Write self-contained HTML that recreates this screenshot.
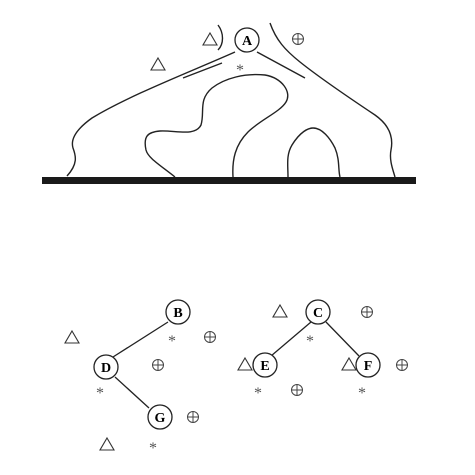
<!DOCTYPE html>
<html><head><meta charset="utf-8"><style>
html,body{margin:0;padding:0;background:#fff;}
svg{display:block;}
text{font-family:"Liberation Serif",serif;}
</style></head><body>
<svg width="475" height="475" viewBox="0 0 475 475">
<g fill="none" stroke="#222" stroke-width="1.4">
<path d="M67,176 C78,164 76,156 73,148 C70,138 78,128 92,118 C130,95 190,72 235,52"/>
<path d="M183,78 L222,63"/>
<path d="M218,25 C224,33 224,44 218,50"/>
<path d="M257,52 L305,78"/>
<path d="M270,23 C276,40 285,50 300,62 C320,78 345,95 375,115 C392,127 393,140 391,150 C389,160 393,170 395,177"/>
<path d="M175,177 C160,165 148,158 146,150 C143,136 148,132 160,131 C175,130 195,137 201,125 C205,112 198,100 212,88 C225,78 245,73 265,75 C282,78 292,92 286,102 C280,112 260,120 248,132 C235,145 232,160 233,177"/>
<path d="M288,177 C288,165 286,155 292,145 C300,132 308,128 313,128 C322,128 330,138 335,148 C340,160 338,170 340,177"/>
</g>
<rect x="42" y="177" width="374" height="7" fill="#1a1a1a"/>
<g fill="none" stroke="#222" stroke-width="1.3">
<line x1="168" y1="322" x2="113" y2="357"/>
<line x1="115" y1="377" x2="149" y2="408"/>
<line x1="311" y1="322" x2="271" y2="356"/>
<line x1="326" y1="322" x2="359" y2="356"/>
</g>
<g>
<g><circle cx="247" cy="40" r="12" fill="#fff" stroke="#222" stroke-width="1.3"/><text x="247" y="45" font-size="14" font-weight="bold" text-anchor="middle">A</text></g>
<g><circle cx="178" cy="312" r="12" fill="#fff" stroke="#222" stroke-width="1.3"/><text x="178" y="317" font-size="14" font-weight="bold" text-anchor="middle">B</text></g>
<g><circle cx="318" cy="312" r="12" fill="#fff" stroke="#222" stroke-width="1.3"/><text x="318" y="317" font-size="14" font-weight="bold" text-anchor="middle">C</text></g>
<g><circle cx="106" cy="367" r="12" fill="#fff" stroke="#222" stroke-width="1.3"/><text x="106" y="372" font-size="14" font-weight="bold" text-anchor="middle">D</text></g>
<g><circle cx="265" cy="365" r="12" fill="#fff" stroke="#222" stroke-width="1.3"/><text x="265" y="370" font-size="14" font-weight="bold" text-anchor="middle">E</text></g>
<g><circle cx="368" cy="365" r="12" fill="#fff" stroke="#222" stroke-width="1.3"/><text x="368" y="370" font-size="14" font-weight="bold" text-anchor="middle">F</text></g>
<g><circle cx="160" cy="417" r="12" fill="#fff" stroke="#222" stroke-width="1.3"/><text x="160" y="422" font-size="14" font-weight="bold" text-anchor="middle">G</text></g>
</g>
<g fill="none" stroke="#333" stroke-width="1.1">
<path d="M210,33 L217,45 L203,45 Z"/>
<path d="M158,58 L165,70 L151,70 Z"/>
<path d="M72,331 L79,343 L65,343 Z"/>
<path d="M280,305 L287,317 L273,317 Z"/>
<path d="M245,358 L252,370 L238,370 Z"/>
<path d="M349,358 L356,370 L342,370 Z"/>
<path d="M107,438 L114,450 L100,450 Z"/>
</g>
<g fill="none" stroke="#444" stroke-width="1">
<g><circle cx="298" cy="39" r="5.5"/><path d="M292.5,39 H303.5 M298,33.5 V44.5"/></g>
<g><circle cx="210" cy="337" r="5.5"/><path d="M204.5,337 H215.5 M210,331.5 V342.5"/></g>
<g><circle cx="158" cy="365" r="5.5"/><path d="M152.5,365 H163.5 M158,359.5 V370.5"/></g>
<g><circle cx="367" cy="312" r="5.5"/><path d="M361.5,312 H372.5 M367,306.5 V317.5"/></g>
<g><circle cx="402" cy="365" r="5.5"/><path d="M396.5,365 H407.5 M402,359.5 V370.5"/></g>
<g><circle cx="297" cy="390" r="5.5"/><path d="M291.5,390 H302.5 M297,384.5 V395.5"/></g>
<g><circle cx="193" cy="417" r="5.5"/><path d="M187.5,417 H198.5 M193,411.5 V422.5"/></g>
</g>
<g font-size="16" fill="#555" text-anchor="middle">
<text x="240" y="75">*</text>
<text x="172" y="346">*</text>
<text x="100" y="398">*</text>
<text x="310" y="346">*</text>
<text x="258" y="398">*</text>
<text x="362" y="398">*</text>
<text x="153" y="453">*</text>
</g>
</svg>
</body></html>
